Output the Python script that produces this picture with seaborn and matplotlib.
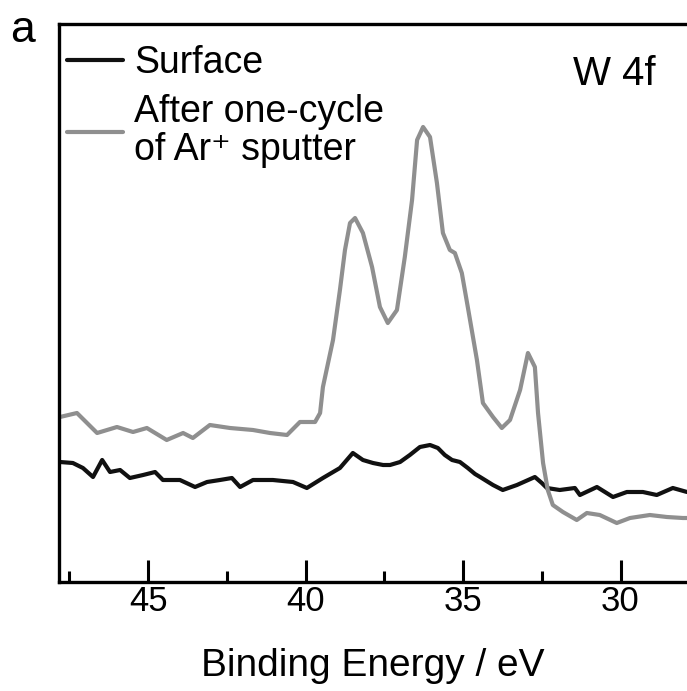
import numpy as np
import pandas as pd
import matplotlib
matplotlib.use("Agg")
import matplotlib.pyplot as plt
import seaborn as sns

# Binding energy (eV) and intensity (arb. units)
surface_E = [47.80, 47.39, 47.07, 46.75, 46.46, 46.21, 45.89, 45.58, 45.16, 44.78,
             44.53, 43.99, 43.51, 43.13, 42.72, 42.34, 42.08, 41.67, 41.04, 40.40,
             39.96, 39.45, 38.91, 38.50, 38.18, 37.86, 37.54, 37.32, 37.00, 36.69,
             36.37, 36.05, 35.80, 35.58, 35.35, 35.10, 34.85, 34.62, 34.46, 34.05,
             33.74, 33.29, 32.72, 32.50, 32.34, 31.93, 31.45, 31.29, 30.75, 30.24,
             29.80, 29.29, 28.85, 28.34, 27.89]
surface_I = [120, 119, 114, 105, 122, 110, 112, 104, 107, 110,
             102, 102, 95, 100, 102, 104, 95, 102, 102, 100,
             94, 104, 114, 129, 122, 119, 117, 117, 120, 127,
             135, 137, 134, 127, 122, 120, 114, 108, 105, 97,
             92, 97, 105, 99, 94, 92, 94, 87, 95, 85,
             90, 90, 87, 94, 90]

sputter_E = [47.80, 47.26, 46.62, 45.99, 45.48, 45.04, 44.41, 43.89, 43.58, 43.04,
             42.40, 41.67, 41.13, 40.59, 40.18, 39.70, 39.54, 39.45, 39.13, 38.91,
             38.75, 38.59, 38.43, 38.18, 37.89, 37.64, 37.39, 37.10, 36.85, 36.62,
             36.46, 36.27, 36.05, 35.83, 35.64, 35.42, 35.26, 35.04, 34.85, 34.56,
             34.37, 34.05, 33.77, 33.51, 33.19, 32.94, 32.72, 32.62, 32.46, 32.31,
             32.15, 31.83, 31.39, 31.07, 30.66, 30.12, 29.70, 29.07, 28.53, 28.02,
             27.89]
sputter_I = [165, 169, 149, 155, 150, 154, 142, 149, 144, 157,
             154, 152, 149, 147, 160, 160, 169, 195, 242, 292,
             332, 359, 364, 349, 315, 275, 259, 272, 325, 382,
             442, 455, 445, 399, 349, 332, 329, 309, 275, 222,
             179, 165, 154, 162, 192, 229, 215, 169, 119, 92,
             77, 70, 62, 69, 67, 59, 64, 67, 65, 64,
             64]

series_names = ["Surface", "After one-cycle\nof Ar\u207a sputter"]
xticks_major = [45, 40, 35, 30]

df = pd.concat([
    pd.DataFrame({"E": surface_E, "I": surface_I, "series": series_names[0]}),
    pd.DataFrame({"E": sputter_E, "I": sputter_I, "series": series_names[1]}),
], ignore_index=True)

sns.set_style("ticks")
plt.rcParams["font.family"] = ["Liberation Sans", "DejaVu Sans"]
plt.rcParams["text.color"] = "black"
plt.rcParams["axes.labelcolor"] = "black"
plt.rcParams["xtick.color"] = "black"

fig = plt.figure(figsize=(6.87, 6.91), dpi=100)
ax = fig.add_axes([59 / 687, 1 - 582 / 691, 1 - 59 / 687, (582 - 24) / 691])

sns.lineplot(data=df, x="E", y="I", hue="series", sort=False, estimator=None,
             palette={series_names[0]: "#111111", series_names[1]: "#8f8f8f"},
             linewidth=3.0, ax=ax, legend=True)

ax.set_xlim(47.83, 27.89)
ax.set_ylim(0, 558)
ax.set_yticks([])
ax.set_xticks(xticks_major)
ax.set_xticks([47.5, 42.5, 37.5, 32.5], minor=True)
ax.set_xticklabels([str(t) for t in xticks_major])
ax.tick_params(axis="x", which="major", direction="in", length=16, width=2.2,
               labelsize=25, pad=2, colors="black")
ax.tick_params(axis="x", which="minor", direction="in", length=8, width=2.2)
for s in ["left", "bottom", "top"]:
    ax.spines[s].set_linewidth(2.4)
    ax.spines[s].set_color("black")
ax.spines["right"].set_visible(False)

ax.set_xlabel("Binding Energy / eV", fontsize=28, labelpad=22)
ax.set_ylabel("")

leg = ax.legend(loc="upper left", bbox_to_anchor=(0.012, 0.962), frameon=False,
                fontsize=27, handlelength=1.5, handletextpad=0.3,
                borderpad=0, borderaxespad=0, labelspacing=0.35)
for t in leg.get_texts():
    t.set_linespacing(1.05)
    t.set_color("black")
for h in leg.get_lines():
    h.set_linewidth(3.0)

ax.text(0.885, 0.91, "W 4f", transform=ax.transAxes, fontsize=29,
        ha="center", va="center")
fig.text(23 / 687, 1 - 30 / 691, "a", fontsize=32, ha="center", va="center")

fig.savefig("out.png", dpi=100)
